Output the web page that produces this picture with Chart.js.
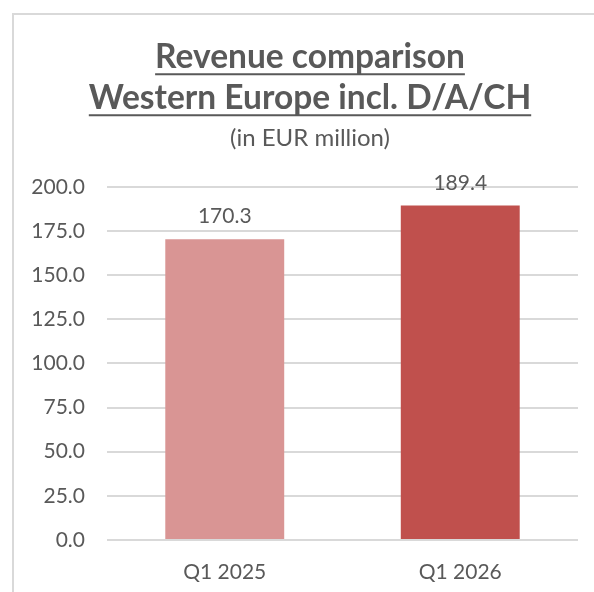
<!DOCTYPE html>
<html>
<head>
<meta charset="utf-8">
<script src="https://cdn.jsdelivr.net/npm/chart.js@4"></script>
<style>
    html, body { margin: 0; padding: 0; background: #fff; overflow: hidden; }
    #frame {
        position: absolute; left: 12px; top: 13px;
        width: 700px; height: 700px;
        border-left: 2px solid #d9d9d9; border-top: 2px solid #d9d9d9;
    }
    #wrap { position: absolute; left: 14px; top: 15px; width: 592px; height: 577px; }
</style>
</head>
<body>
<div id="frame"></div>
<div id="wrap"><canvas id="revenueChart"></canvas></div>
<script>
const categories = ['Q1 2025', 'Q1 2026'];
const revenue = [170.3, 189.4];
const barColors = ['#d99594', '#c0504d'];
const yTicks = [0, 25, 50, 75, 100, 125, 150, 175, 200];

const textColor = '#595959';
const fontName = 'Lato';

// the header in the original sits centred on the whole frame, not on the plot side
const centreHeader = {
    id: 'centreHeader',
    afterLayout(chart) {
        chart.boxes.filter(b => b.position === 'top').forEach(b => { b.left += 28; });
    }
};

// underline the two title lines like the original
const underlineTitle = {
    id: 'underlineTitle',
    afterDraw(chart) {
        const block = chart.titleBlock;
        if (!block) return;
        const opts = chart.options.plugins.title;
        const size = opts.font.size;
        const lh = size * opts.font.lineHeight;
        const ctx = chart.ctx;
        ctx.save();
        ctx.font = 'bold ' + size + 'px ' + fontName;
        ctx.textBaseline = 'middle';
        const baseOff = ctx.measureText('H').actualBoundingBoxDescent;
        ctx.strokeStyle = textColor;
        ctx.lineWidth = 2;
        const cx = (block.left + block.right) / 2;
        opts.text.forEach((line, i) => {
            const w = ctx.measureText(line).width;
            const y = block.top + opts.padding.top + lh / 2 + i * lh + baseOff + 6;
            ctx.beginPath();
            ctx.moveTo(cx - w / 2, y);
            ctx.lineTo(cx + w / 2, y);
            ctx.stroke();
        });
        ctx.restore();
    }
};

// value labels above the bars
const barValues = {
    id: 'barValues',
    afterDatasetsDraw(chart) {
        const ctx = chart.ctx;
        const meta = chart.getDatasetMeta(0);
        ctx.save();
        ctx.font = '21px ' + fontName;
        ctx.fillStyle = textColor;
        ctx.textAlign = 'center';
        ctx.textBaseline = 'alphabetic';
        meta.data.forEach((bar, i) => {
            ctx.fillText(revenue[i].toFixed(1), bar.x, bar.y - 16);
        });
        ctx.restore();
    }
};

new Chart(document.getElementById('revenueChart'), {
    type: 'bar',
    data: {
        labels: categories,
        datasets: [{
            data: revenue,
            backgroundColor: barColors,
            barPercentage: 1,
            categoryPercentage: 0.505
        }]
    },
    plugins: [centreHeader, underlineTitle, barValues],
    options: {
        responsive: true,
        maintainAspectRatio: false,
        animation: false,
        layout: { padding: { top: 22, right: 28, bottom: 0, left: 0 } },
        plugins: {
            legend: { display: false },
            tooltip: { enabled: false },
            title: {
                display: true,
                text: ['Revenue comparison', 'Western Europe incl. D/A/CH'],
                color: textColor,
                font: { family: fontName, size: 33.5, weight: 'bold', lineHeight: 41 / 33.5 },
                padding: { top: 0, bottom: 5 }
            },
            subtitle: {
                display: true,
                text: '(in EUR million)',
                color: textColor,
                font: { family: fontName, size: 24, lineHeight: 1.2 },
                padding: { top: 0, bottom: 34 }
            }
        },
        scales: {
            x: {
                grid: { display: false },
                border: { display: false },
                ticks: { color: textColor, font: { family: fontName, size: 21 }, padding: 12 },
                afterFit(scale) { scale.height = 52; }
            },
            y: {
                min: 0,
                max: 200,
                afterBuildTicks(scale) { scale.ticks = yTicks.map(v => ({ value: v })); },
                grid: { color: '#d9d9d9', lineWidth: 2, drawTicks: false },
                border: { display: false },
                ticks: {
                    color: textColor,
                    font: { family: fontName, size: 21 },
                    padding: 22,
                    callback: v => v.toFixed(1)
                },
                afterFit(scale) { scale.width = 93; }
            }
        }
    }
});
</script>
</body>
</html>
